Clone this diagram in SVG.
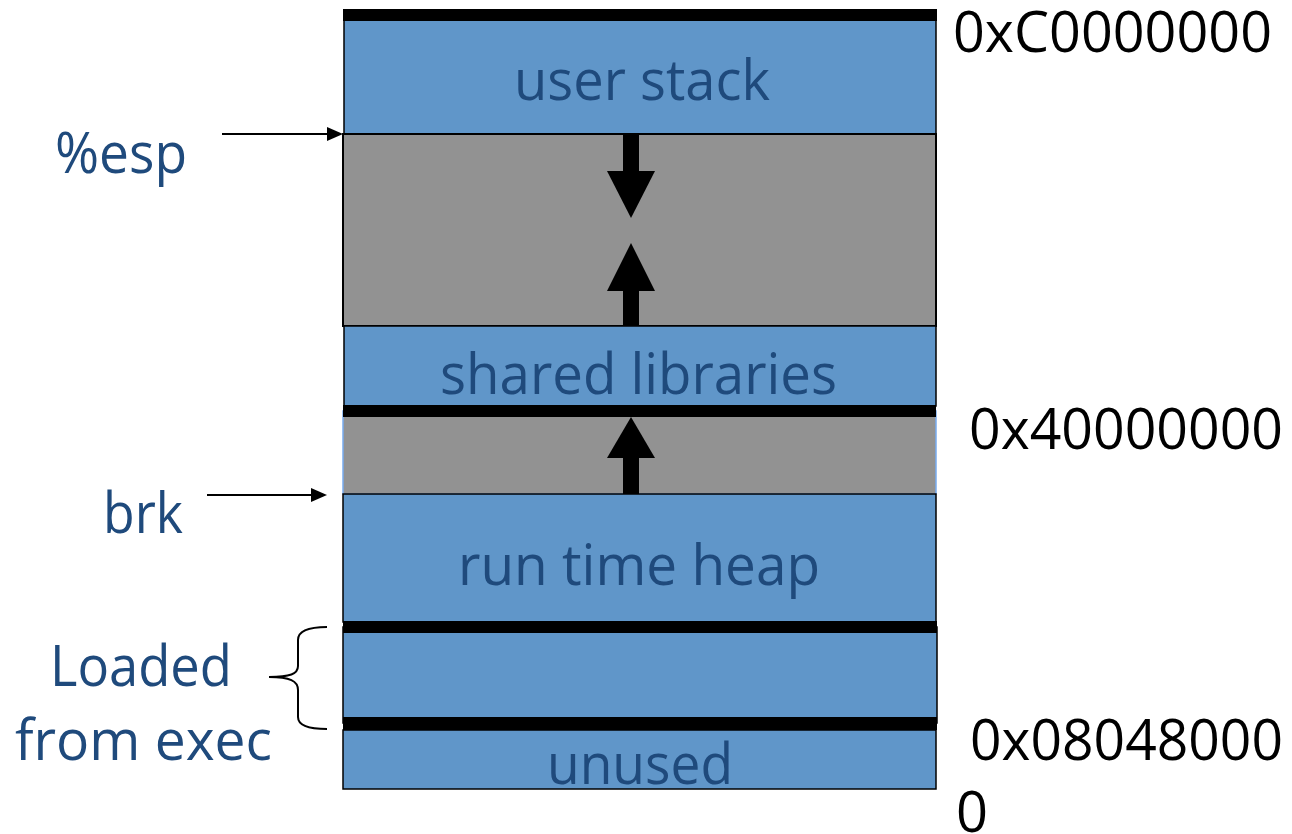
<svg xmlns="http://www.w3.org/2000/svg" width="1292" height="834" viewBox="0 0 1292 834">
<style>
.blue{fill:#6096C9;stroke:#000;stroke-width:1.5}
.gray{fill:#929292;stroke:#000;stroke-width:2}
.bar{fill:#000}
.lbl{font-family:"Open Sans","Liberation Sans",sans-serif;font-size:56px;fill:#1F4A7C}
.addr{font-family:"Open Sans","Liberation Sans",sans-serif;font-size:56px;fill:#000}
.thin{fill:none;stroke:#000;stroke-width:2}
</style>
<rect width="1292" height="834" fill="#fff"/>
<g id="user-stack">
<rect class="blue" x="344" y="20" width="592" height="114"/>
<rect class="bar" x="343" y="9" width="594" height="12"/>
<text class="lbl" x="514" y="100" textLength="256" lengthAdjust="spacingAndGlyphs">user stack</text>
</g>
<g id="gap-stack">
<rect class="gray" x="343" y="134" width="593" height="192"/>
</g>
<g id="shared-libraries">
<rect class="blue" x="344" y="326" width="592" height="80"/>
<text class="lbl" x="440" y="394" textLength="397" lengthAdjust="spacingAndGlyphs">shared libraries</text>
</g>
<g id="gap-heap">
<rect x="343" y="411" width="593" height="83" fill="#929292" stroke="#78ACEF" stroke-width="1.5"/>
<rect class="bar" x="343" y="405" width="593" height="12"/>
</g>
<g id="run-time-heap">
<rect class="blue" x="343" y="494" width="593" height="128"/>
<text class="lbl" x="458" y="585" textLength="362" lengthAdjust="spacingAndGlyphs">run time heap</text>
</g>
<g id="loaded-segment">
<rect class="blue" x="343" y="627" width="594" height="96"/>
<rect class="bar" x="343" y="621" width="594" height="12"/>
<rect class="bar" x="343" y="717" width="594" height="13"/>
</g>
<g id="unused">
<rect class="blue" x="343" y="730" width="593" height="59"/>
<text class="lbl" x="547" y="784" textLength="186" lengthAdjust="spacingAndGlyphs">unused</text>
</g>
<g id="connectors">
<line class="thin" x1="222" y1="134" x2="329" y2="134"/>
<polygon points="327,127 343,134 327,141" fill="#000"/>
<line class="thin" x1="207" y1="495" x2="313" y2="495"/>
<polygon points="311,488 327,495 311,502" fill="#000"/>
<rect x="623" y="135" width="16" height="37" fill="#000"/>
<polygon points="607,171 655,171 631,218" fill="#000"/>
<rect x="623" y="290" width="16" height="35" fill="#000"/>
<polygon points="607,291 655,291 631,243" fill="#000"/>
<rect x="623" y="457" width="16" height="37" fill="#000"/>
<polygon points="607,458 655,458 631,417" fill="#000"/>
<path class="thin" d="M327,627 C310,627 298,630 298,640 L298,666 C298,674 290,677 269,677 C290,677 298,681 298,690 L298,717 C298,726 310,729 327,729"/>
</g>
<g id="labels">
<text class="lbl" x="55" y="173" textLength="132" lengthAdjust="spacingAndGlyphs">%esp</text>
<text class="lbl" x="103" y="533" textLength="80" lengthAdjust="spacingAndGlyphs">brk</text>
<text class="lbl" x="50" y="686" textLength="182" lengthAdjust="spacingAndGlyphs">Loaded</text>
<text class="lbl" x="15" y="760" textLength="257" lengthAdjust="spacingAndGlyphs">from exec</text>
<text class="addr" x="953" y="52" textLength="319" lengthAdjust="spacingAndGlyphs">0xC0000000</text>
<text class="addr" x="969" y="449" textLength="314" lengthAdjust="spacingAndGlyphs">0x40000000</text>
<text class="addr" x="970" y="760" textLength="313" lengthAdjust="spacingAndGlyphs">0x08048000</text>
<text class="addr" x="956" y="832">0</text>
</g>
</svg>
